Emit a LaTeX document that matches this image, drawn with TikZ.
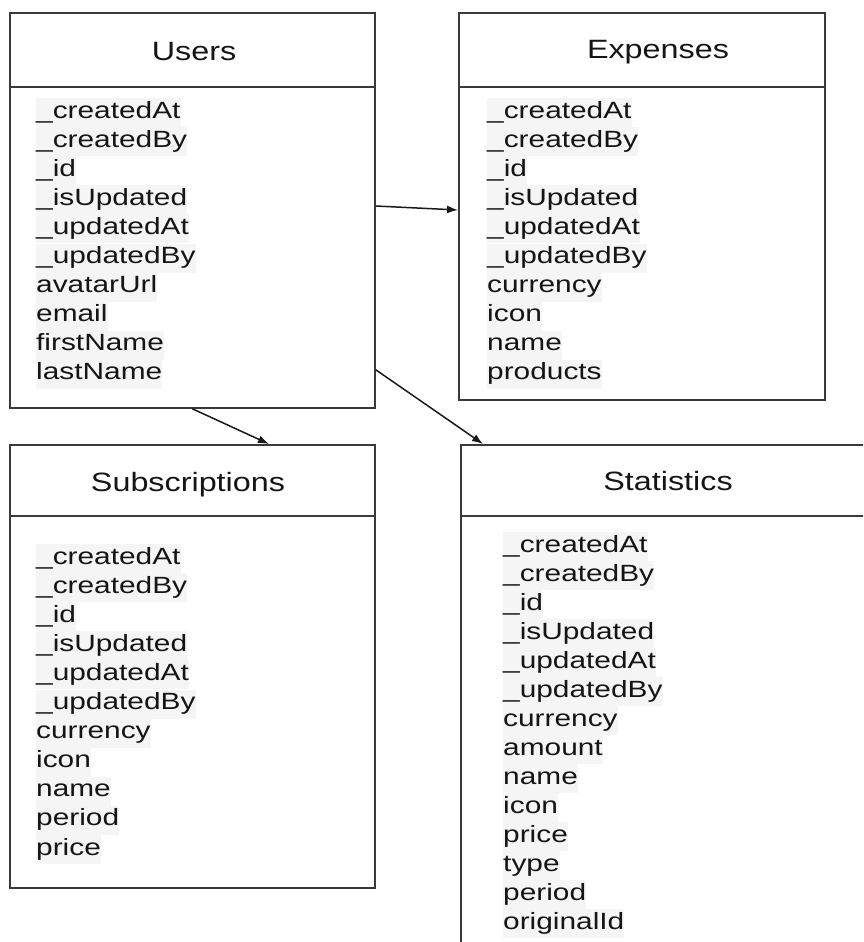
\documentclass[tikz,border=0pt]{standalone}
\usepackage{fontspec}
\setmainfont{Liberation Sans}
\newfontfamily\titlefont[FakeStretch=1.22]{Liberation Sans}
\newfontfamily\fieldfont[FakeStretch=1.27]{Liberation Sans}
\usetikzlibrary{arrows.meta}
\definecolor{linegray}{HTML}{3A3A3A}
\definecolor{txt}{HTML}{151515}
\definecolor{hl}{HTML}{F5F5F5}
\tikzset{
  table/.style={draw=linegray, line width=1.8pt, rectangle, anchor=north west, inner sep=0pt},
  sepline/.style={draw=linegray, line width=1.8pt},
  ttl/.style={anchor=base, inner sep=0pt, text=txt, font=\titlefont\fontsize{26.5}{30}\selectfont},
  fld/.style={anchor=base west, inner xsep=0pt, inner ysep=3pt, text height=17pt, text depth=6pt,
              fill=hl, text=txt, font=\fieldfont\fontsize{23.5}{29}\selectfont},
  conn/.style={draw=black!90, line width=1.5pt, -{Latex[length=11pt,width=8pt]}}
}
\begin{document}
\begin{tikzpicture}[x=1pt,y=-1pt]
\useasboundingbox (0,0) rectangle (863,942);
\clip (0,0) rectangle (863,942);

% boxes
\node[table, minimum width=365pt, minimum height=395pt] (users) at (9,12) {};
\node[table, minimum width=366pt, minimum height=387pt] (expenses) at (458,12) {};
\node[table, minimum width=365pt, minimum height=443pt] (subs) at (9,444) {};
\node[table, minimum width=420pt, minimum height=540pt] (stats) at (460,444) {};

% header separators
\draw[sepline] ([yshift=-75pt]users.north west) -- ([yshift=-75pt]users.north east);
\draw[sepline] ([yshift=-75pt]expenses.north west) -- ([yshift=-75pt]expenses.north east);
\draw[sepline] ([yshift=-72pt]subs.north west) -- ([yshift=-72pt]subs.north east);
\draw[sepline] ([yshift=-72pt]stats.north west) -- ([yshift=-72pt]stats.north east);

% titles
\node[ttl] (usersT) at (194,61) {Users};
\node[ttl] (expensesT) at (658,59) {Expenses};
\node[ttl] (subsT) at (188,491) {Subscriptions};
\node[ttl] (statsT) at (668,490) {Statistics};

% fields
\foreach \t [count=\i] in {\_createdAt,\_createdBy,\_id,\_isUpdated,\_updatedAt,\_updatedBy,avatarUrl,email,firstName,lastName}
  \node[fld] (u\i) at (36,{118+29.1*(\i-1)}) {\t};
\foreach \t [count=\i] in {\_createdAt,\_createdBy,\_id,\_isUpdated,\_updatedAt,\_updatedBy,currency,icon,name,products}
  \node[fld] (e\i) at (487,{118+29.1*(\i-1)}) {\t};
\foreach \t [count=\i] in {\_createdAt,\_createdBy,\_id,\_isUpdated,\_updatedAt,\_updatedBy,currency,icon,name,period,price}
  \node[fld] (s\i) at (36,{564+29.1*(\i-1)}) {\t};
\foreach \t [count=\i] in {\_createdAt,\_createdBy,\_id,\_isUpdated,\_updatedAt,\_updatedBy,currency,amount,name,icon,price,type,period,originalId}
  \node[fld] (t\i) at (503,{552+29*(\i-1)}) {\t};

% connectors
\draw[conn] ([yshift=-194pt]users.north east) -- ([yshift=-198pt]expenses.north west);
\draw[conn] (users.south) -- ([xshift=260pt]subs.north west);
\draw[conn] ([yshift=39pt]users.south east) -- ([xshift=23pt]stats.north west);
\end{tikzpicture}
\end{document}
